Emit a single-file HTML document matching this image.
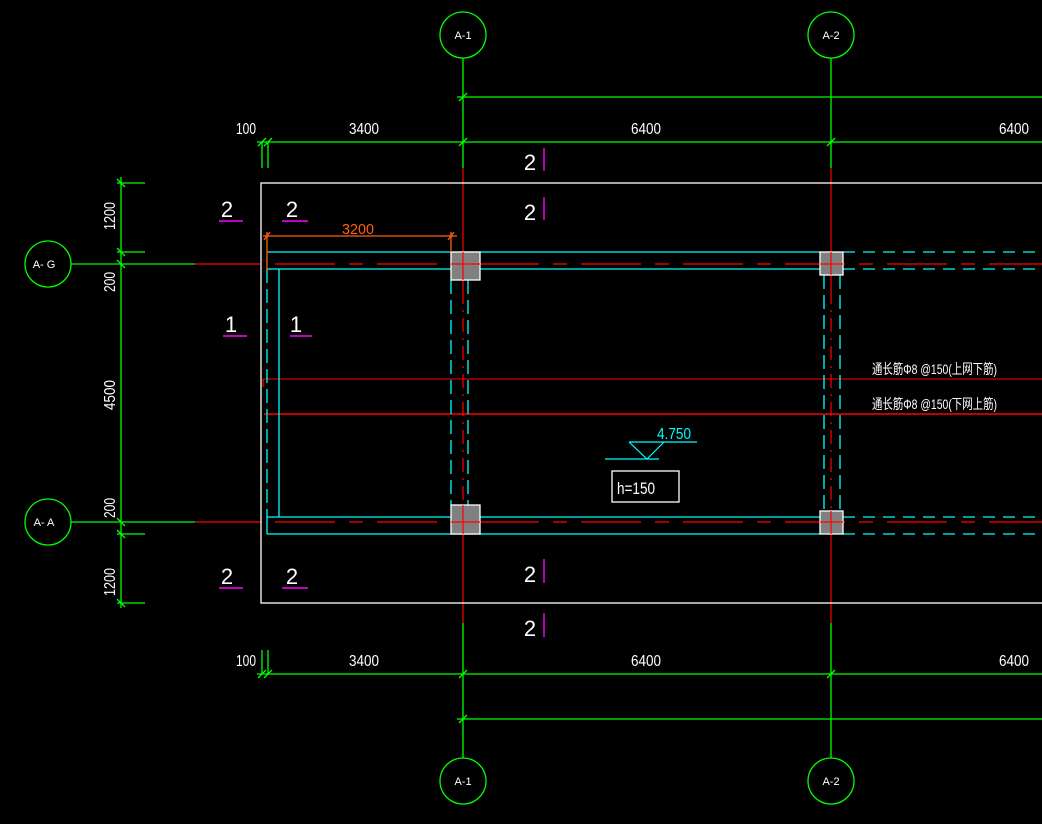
<!DOCTYPE html>
<html><head><meta charset="utf-8"><style>
html,body{margin:0;padding:0;background:#000;width:1042px;height:824px;overflow:hidden}
svg{display:block}
text{font-family:"Liberation Sans Narrow","Liberation Sans","Noto Sans CJK SC",sans-serif}
</style></head><body>
<svg width="1042" height="824" viewBox="0 0 1042 824" xmlns="http://www.w3.org/2000/svg">
<rect width="1042" height="824" fill="#000"/>
<g stroke="#00ff00" stroke-width="1.3" fill="none">
  <circle cx="463" cy="35" r="23"/><circle cx="831" cy="35" r="23"/>
  <circle cx="463" cy="781" r="23"/><circle cx="831" cy="781" r="23"/>
  <circle cx="48" cy="264" r="23"/><circle cx="48" cy="522" r="23"/>
  <line x1="463" y1="58" x2="463" y2="168"/><line x1="831" y1="58" x2="831" y2="168"/>
  <line x1="463" y1="623" x2="463" y2="758"/><line x1="831" y1="623" x2="831" y2="758"/>
  <line x1="71" y1="264" x2="195" y2="264"/><line x1="71" y1="522" x2="195" y2="522"/>
  <line x1="457" y1="97" x2="1042" y2="97"/>
  <line x1="257" y1="142" x2="1042" y2="142"/>
  <line x1="262" y1="142" x2="262" y2="168"/><line x1="268" y1="142" x2="268" y2="168"/>
  <line x1="257" y1="674" x2="1042" y2="674"/>
  <line x1="457" y1="719" x2="1042" y2="719"/>
  <line x1="262" y1="650" x2="262" y2="674"/><line x1="268" y1="650" x2="268" y2="674"/>
  <line x1="121" y1="177" x2="121" y2="608"/>
  <line x1="117" y1="183" x2="145" y2="183"/><line x1="117" y1="252" x2="145" y2="252"/>
  <line x1="117" y1="534" x2="145" y2="534"/><line x1="117" y1="603" x2="145" y2="603"/>
  <path d="M258 146 L266 138 M264 146 L272 138 M459 101 L467 93 M459 146 L467 138 M827 146 L835 138 M258 678 L266 670 M264 678 L272 670 M459 678 L467 670 M459 723 L467 715 M827 678 L835 670
  M117 179 L125 187 M117 248 L125 256 M117 260 L125 268 M117 518 L125 526 M117 530 L125 538 M117 599 L125 607"/>
</g>
<g stroke="#ff0000" stroke-width="1.2" fill="none">
  <line x1="195" y1="264" x2="260" y2="264"/><line x1="195" y1="522" x2="262" y2="522"/>
  <line x1="463" y1="168" x2="463" y2="290"/><line x1="831" y1="168" x2="831" y2="290"/>
  <line x1="463" y1="530" x2="463" y2="623"/><line x1="831" y1="530" x2="831" y2="623"/>
  <line x1="463" y1="290" x2="463" y2="530" stroke-dasharray="14,6,2,6"/>
  <line x1="831" y1="290" x2="831" y2="530" stroke-dasharray="14,6,2,6"/>
  <line x1="275" y1="264" x2="1042" y2="264" stroke-dasharray="60,14,14,14"/>
  <line x1="275" y1="522" x2="1042" y2="522" stroke-dasharray="60,14,14,14"/>
  <line x1="263" y1="379" x2="1042" y2="379" stroke-width="1"/>
  <line x1="263" y1="379" x2="263" y2="387"/>
  <line x1="264" y1="414" x2="1042" y2="414" stroke-width="1.4"/>
</g>
<rect x="261" y="183" width="790" height="420" fill="none" stroke="#fff" stroke-width="1.3"/>
<g stroke="#00ffff" stroke-width="1.3" fill="none">
  <line x1="267" y1="252" x2="820" y2="252"/><line x1="267" y1="269" x2="820" y2="269"/>
  <line x1="843" y1="252" x2="1042" y2="252" stroke-dasharray="12,8"/>
  <line x1="843" y1="269" x2="1042" y2="269" stroke-dasharray="12,8"/>
  <line x1="267" y1="517" x2="820" y2="517"/><line x1="267" y1="534" x2="820" y2="534"/>
  <line x1="843" y1="517" x2="1042" y2="517" stroke-dasharray="12,8"/>
  <line x1="843" y1="534" x2="1042" y2="534" stroke-dasharray="12,8"/>
  <line x1="267" y1="269" x2="267" y2="517" stroke-dasharray="14,6"/>
  <line x1="267" y1="517" x2="267" y2="534"/>
  <line x1="279" y1="269" x2="279" y2="517"/>
  <line x1="451" y1="280" x2="451" y2="505" stroke-dasharray="14,6"/>
  <line x1="468" y1="280" x2="468" y2="505" stroke-dasharray="14,6"/>
  <line x1="824" y1="275" x2="824" y2="511" stroke-dasharray="14,6"/>
  <line x1="840" y1="275" x2="840" y2="511" stroke-dasharray="14,6"/>
</g>
<g fill="#808080" stroke="#fff" stroke-width="1.3">
  <rect x="451" y="252" width="29" height="28"/><rect x="451" y="505" width="29" height="29"/>
  <rect x="820" y="252" width="23" height="23"/><rect x="820" y="511" width="23" height="23"/>
</g>
<g stroke="#ff0000" stroke-width="1.2">
  <line x1="463" y1="252" x2="463" y2="280"/><line x1="451" y1="264" x2="480" y2="264"/>
  <line x1="463" y1="505" x2="463" y2="534"/><line x1="451" y1="522" x2="480" y2="522"/>
  <line x1="831" y1="252" x2="831" y2="275"/><line x1="820" y1="264" x2="843" y2="264"/>
  <line x1="831" y1="511" x2="831" y2="534"/><line x1="820" y1="522" x2="843" y2="522"/>
</g>
<g stroke="#ff6010" stroke-width="1.3" fill="none">
  <line x1="263" y1="236" x2="457" y2="236"/>
  <line x1="267" y1="232" x2="267" y2="270"/><line x1="451" y1="232" x2="451" y2="252"/>
  <path d="M264 240 L270 232 M448 240 L454 232"/>
</g>
<text x="342" y="234" fill="#ff6010" font-size="15" textLength="32" lengthAdjust="spacingAndGlyphs">3200</text>
<g fill="#fff" font-size="16">
  <text x="236" y="134" textLength="20" lengthAdjust="spacingAndGlyphs">100</text>
  <text x="349" y="134" textLength="30" lengthAdjust="spacingAndGlyphs">3400</text>
  <text x="631" y="134" textLength="30" lengthAdjust="spacingAndGlyphs">6400</text>
  <text x="999" y="134" textLength="30" lengthAdjust="spacingAndGlyphs">6400</text>
  <text x="236" y="666" textLength="20" lengthAdjust="spacingAndGlyphs">100</text>
  <text x="349" y="666" textLength="30" lengthAdjust="spacingAndGlyphs">3400</text>
  <text x="631" y="666" textLength="30" lengthAdjust="spacingAndGlyphs">6400</text>
  <text x="999" y="666" textLength="30" lengthAdjust="spacingAndGlyphs">6400</text>
  <text transform="translate(115 230) rotate(-90)" textLength="28" lengthAdjust="spacingAndGlyphs">1200</text>
  <text transform="translate(115 292) rotate(-90)" textLength="20" lengthAdjust="spacingAndGlyphs">200</text>
  <text transform="translate(115 410) rotate(-90)" textLength="30" lengthAdjust="spacingAndGlyphs">4500</text>
  <text transform="translate(115 518) rotate(-90)" textLength="20" lengthAdjust="spacingAndGlyphs">200</text>
  <text transform="translate(115 596) rotate(-90)" textLength="28" lengthAdjust="spacingAndGlyphs">1200</text>
</g>
<g fill="#fff" font-size="11" text-anchor="middle">
  <text x="463" y="39">A-1</text><text x="831" y="39">A-2</text>
  <text x="463" y="785">A-1</text><text x="831" y="785">A-2</text>
  <text x="44" y="268">A- G</text><text x="44" y="526">A- A</text>
</g>
<g fill="#fff" font-size="22" text-anchor="middle">
  <text x="227" y="217">2</text><text x="292" y="217">2</text>
  <text x="231" y="332">1</text><text x="296" y="332">1</text>
  <text x="227" y="584">2</text><text x="292" y="584">2</text>
  <text x="530" y="170">2</text><text x="530" y="220">2</text>
  <text x="530" y="582">2</text><text x="530" y="636">2</text>
</g>
<g stroke="#ff00ff" stroke-width="1.4">
  <line x1="219" y1="221" x2="243" y2="221"/><line x1="282" y1="221" x2="308" y2="221"/>
  <line x1="223" y1="336" x2="247" y2="336"/><line x1="290" y1="336" x2="312" y2="336"/>
  <line x1="219" y1="588" x2="243" y2="588"/><line x1="282" y1="588" x2="308" y2="588"/>
  <line x1="544" y1="148" x2="544" y2="171"/><line x1="544" y1="197" x2="544" y2="220"/>
  <line x1="544" y1="559" x2="544" y2="583"/><line x1="544" y1="613" x2="544" y2="637"/>
</g>
<g fill="#fff" font-size="14">
  <text x="872" y="374" textLength="125" lengthAdjust="spacingAndGlyphs">通长筋Φ8 @150(上网下筋)</text>
  <text x="872" y="409" textLength="125" lengthAdjust="spacingAndGlyphs">通长筋Φ8 @150(下网上筋)</text>
</g>
<g stroke="#00ffff" stroke-width="1.2" fill="none">
  <line x1="629" y1="442" x2="697" y2="442"/>
  <path d="M629 442 L647 459 L664 442"/>
  <line x1="605" y1="459" x2="659" y2="459"/>
</g>
<text x="657" y="439" fill="#00ffff" font-size="16" textLength="34" lengthAdjust="spacingAndGlyphs">4.750</text>
<rect x="612" y="471" width="67" height="31" fill="none" stroke="#fff" stroke-width="1.3"/>
<text x="617" y="494" fill="#fff" font-size="17" textLength="38" lengthAdjust="spacingAndGlyphs">h=150</text>
</svg>
</body></html>
